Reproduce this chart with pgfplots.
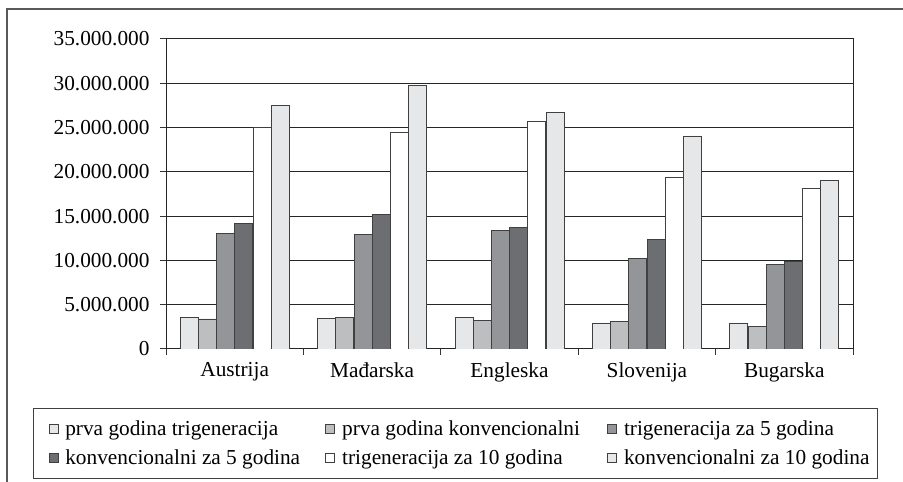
\documentclass[border=0pt]{standalone}
\usepackage{pgfplots}
\pgfplotsset{compat=1.18}
\usepackage{fontspec}
\setmainfont{Liberation Serif}
\definecolor{cA}{HTML}{E6E7E8}
\definecolor{cB}{HTML}{BCBEC0}
\definecolor{cC}{HTML}{939598}
\definecolor{cD}{HTML}{6D6E71}
\definecolor{cE}{HTML}{FFFFFF}
\definecolor{cF}{HTML}{E6E7E8}
\definecolor{edge}{HTML}{404040}
\newcommand{\fs}{\fontsize{21.3bp}{25bp}\selectfont}
\begin{document}
\begin{tikzpicture}[x=1bp,y=1bp]
\useasboundingbox (0,0) rectangle (903,482);
\draw[line width=1.3bp, color=black!65] (7,-10) -- (7,473) -- (920,473);
\begin{axis}[
  at={(166bp,133bp)}, anchor=south west,
  scale only axis, width=687bp, height=310bp,
  ybar=0.2bp, bar width=18bp,
  xmin=-0.5, xmax=4.5, ymin=0, ymax=35000000,
  xtick={-0.5,0.5,1.5,2.5,3.5,4.5},
  xticklabels={},
  extra x ticks={0,1,2,3,4},
  extra x tick labels={Austrija,Mađarska,Engleska,Slovenija,Bugarska},
  extra x tick style={major tick length=0pt, grid=none},
  xtick pos=bottom, ytick pos=left,
  ytick={0,5000000,10000000,15000000,20000000,25000000,30000000,35000000},
  yticklabels={0,5.000.000,10.000.000,15.000.000,20.000.000,25.000.000,30.000.000,35.000.000},
  scaled y ticks=false,
  ymajorgrids, grid style={draw=black!85, line width=1bp},
  tick align=outside, major tick length=6bp,
  xtick style={draw=black!80, line width=1bp},
  ytick style={draw=black!80, line width=1bp},
  ticklabel style={font=\fs},
  xticklabel style={yshift=-10bp},
  yticklabel style={xshift=-7bp},
  axis line style={draw=black!85, line width=1bp},
  every axis plot/.append style={draw=edge, line width=0.9bp},
  legend columns=3,
  legend cell align=left,
  legend image code/.code={\path (-9bp,0bp); \draw[#1, draw=edge, line width=0.8bp] (0bp,-4.5bp) rectangle (9bp,4.5bp);},
  legend style={at={(axis description cs:-0.1936,-0.1903)}, anchor=north west,
    font=\fs, draw=black!75, line width=1bp, inner xsep=6bp, inner ysep=10.5bp,
    nodes={inner sep=2bp}, row sep=8bp,
    /tikz/every odd column/.append style={column sep=5bp}},
]
\addplot[fill=cA] coordinates {(0,3580000) (1,3430000) (2,3580000) (3,2940000) (4,2940000)};
\addplot[fill=cB] coordinates {(0,3390000) (1,3600000) (2,3270000) (3,3120000) (4,2560000)};
\addplot[fill=cC] coordinates {(0,13060000) (1,12900000) (2,13400000) (3,10200000) (4,9560000)};
\addplot[fill=cD] coordinates {(0,14200000) (1,15200000) (2,13700000) (3,12400000) (4,9860000)};
\addplot[fill=cE] coordinates {(0,25000000) (1,24500000) (2,25660000) (3,19400000) (4,18070000)};
\addplot[fill=cF] coordinates {(0,27500000) (1,29700000) (2,26700000) (3,24050000) (4,19050000)};
\legend{\makebox[249bp][l]{prva godina trigeneracija},
        \makebox[254bp][l]{prva godina konvencionalni},
        trigeneracija za 5 godina,
        \makebox[249bp][l]{konvencionalni za 5 godina},
        \makebox[254bp][l]{trigeneracija za 10 godina},
        konvencionalni za 10 godina}
\end{axis}
\end{tikzpicture}
\end{document}
